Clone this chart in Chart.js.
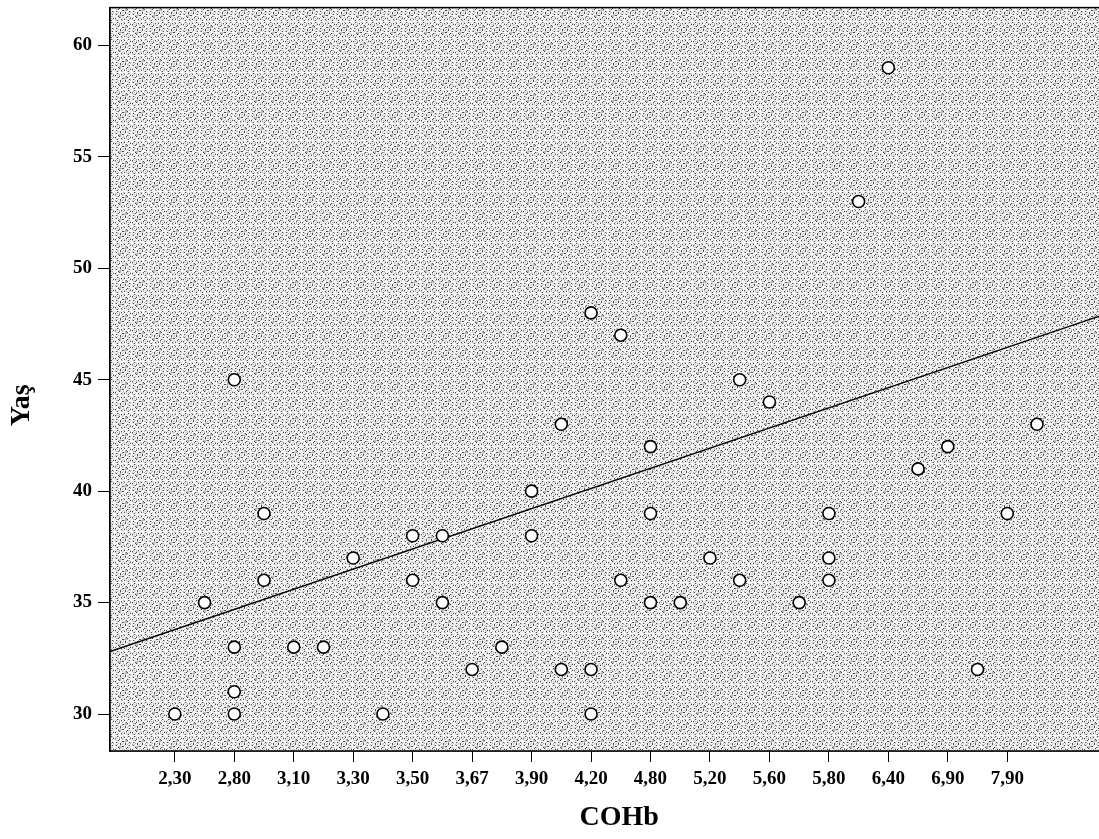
<!DOCTYPE html>
<html>
<head>
<meta charset="utf-8">
<script src="https://cdn.jsdelivr.net/npm/chart.js@4"></script>
<style>
  html, body { margin: 0; padding: 0; background: #fff; overflow: hidden; }
  #wrap { width: 1110px; height: 839px; position: relative; }
</style>
</head>
<body>
<div id="wrap"><canvas id="scatter"></canvas></div>
<script>
document.addEventListener('DOMContentLoaded', () => {

  // data

  // labelled categories on the COHb axis (every second category is labelled)
  const tickLabels = ['2,30', '2,80', '3,10', '3,30', '3,50', '3,67', '3,90', '4,20',
                      '4,80', '5,20', '5,60', '5,80', '6,40', '6,90', '7,90'];

  // category position of each case on the COHb axis (0 = 2,30, 2 = 2,80, ...)
  const cohbPos = [0, 1, 2, 2, 2, 2, 3, 3, 4, 5, 6, 7, 8, 8, 9, 9, 10, 11, 12, 12,
                   13, 13, 14, 14, 14, 15, 15, 16, 16, 16, 17, 18, 19, 19, 20, 21,
                   22, 22, 22, 23, 24, 25, 26, 27, 28, 29];

  // age (Yaş) of each case
  const yas = [30, 35, 45, 33, 31, 30, 39, 36, 33, 33, 37, 30, 38, 36, 38, 35, 32, 33, 40, 38,
               43, 32, 48, 32, 30, 47, 36, 42, 39, 35, 35, 37, 45, 36, 44, 35,
               39, 37, 36, 53, 59, 41, 42, 32, 39, 43];

  // fit line, read at the plot edges
  const fitPos = [-2.18, 31.2];
  const fitYas = [32.8, 47.9];

  const yTicks = [30, 35, 40, 45, 50, 55, 60];

  const xTitle = 'COHb';
  const yTitle = 'Yaş';

  // stippled grey plot background
  const tile = document.createElement('canvas');
  tile.width = 17; tile.height = 17;
  const tctx = tile.getContext('2d');
  tctx.fillStyle = '#f6f6f6';
  tctx.fillRect(0, 0, 17, 17);
  for (let x = 0; x < 17; x++) {
    for (let y = 0; y < 17; y++) {
      const h = (x * 73 + y * 151 + x * y * 37) % 17;
      if (h < 2) { tctx.fillStyle = '#4a4a4a'; tctx.fillRect(x, y, 1, 1); }
      else if (h < 6) { tctx.fillStyle = '#bdbdbd'; tctx.fillRect(x, y, 1, 1); }
    }
  }

  const serif = 'Liberation Serif, Times New Roman, serif';

  const plotFrame = {
    id: 'plotFrame',
    beforeDatasetsDraw(chart) {
      const { ctx, chartArea: a } = chart;
      ctx.save();
      ctx.fillStyle = ctx.createPattern(tile, 'repeat');
      ctx.fillRect(a.left, a.top, a.right - a.left, a.bottom - a.top);
      ctx.restore();
    },
    afterDatasetsDraw(chart) {
      const { ctx, chartArea: a } = chart;
      ctx.save();
      ctx.strokeStyle = '#000';
      ctx.lineWidth = 1.5;
      ctx.strokeRect(a.left, a.top, a.right - a.left, a.bottom - a.top);
      ctx.restore();
    },
    afterDraw(chart) {
      // axis titles, placed as in the original figure
      const { ctx, chartArea: a } = chart;
      ctx.save();
      ctx.fillStyle = '#000';
      ctx.font = 'bold 28px ' + serif;
      ctx.textAlign = 'center';
      ctx.textBaseline = 'middle';
      ctx.fillText(xTitle, (a.left + a.right) / 2 + 13, 818);
      ctx.translate(22, (a.top + a.bottom) / 2 + 26);
      ctx.rotate(-Math.PI / 2);
      ctx.fillText(yTitle, 0, 0);
      ctx.restore();
    }
  };

  const config = {
    type: 'scatter',
    data: {
      datasets: [{
        label: 'Fit',
        type: 'line',
        data: fitPos.map((x, i) => ({ x: x, y: fitYas[i] })),
        borderColor: '#000',
        borderWidth: 1.5,
        pointRadius: 0,
        fill: false,
        order: 2
      }, {
        label: 'Yaş',
        data: cohbPos.map((x, i) => ({ x: x, y: yas[i] })),
        pointStyle: 'circle',
        pointRadius: 6,
        pointBorderWidth: 1.6,
        borderColor: '#000',
        backgroundColor: '#fff',
        order: 1
      }]
    },
    options: {
      responsive: true,
      maintainAspectRatio: false,
      animation: false,
      layout: { padding: { top: 7, right: 4, bottom: 0, left: 0 } },
      plugins: {
        legend: { display: false },
        tooltip: { enabled: false }
      },
      scales: {
        x: {
          type: 'linear',
          min: -2.18,
          max: 31.2,
          afterBuildTicks: (scale) => {
            scale.ticks = tickLabels.map((_, i) => ({ value: i * 2 }));
          },
          afterFit: (scale) => {
            scale.height = 88;
            scale.paddingLeft = 0;
            scale.paddingRight = 0;
          },
          grid: { display: true, drawOnChartArea: false, tickLength: 11, color: '#000', lineWidth: 1 },
          border: { display: true, color: '#000', width: 1.5 },
          ticks: {
            autoSkip: false,
            maxRotation: 0,
            padding: 6,
            color: '#000',
            font: { family: serif, size: 19, weight: 'bold' },
            callback: (value) => tickLabels[Math.round(value / 2)]
          },
          title: { display: false, text: xTitle }
        },
        y: {
          min: 28.34,
          max: 61.7,
          afterBuildTicks: (scale) => {
            scale.ticks = yTicks.map(v => ({ value: v }));
          },
          afterFit: (scale) => {
            scale.width = 110;
            scale.paddingTop = 0;
            scale.paddingBottom = 0;
          },
          grid: { display: true, drawOnChartArea: false, tickLength: 12, color: '#000', lineWidth: 1 },
          border: { display: true, color: '#000', width: 1.5 },
          ticks: {
            padding: 6,
            color: '#000',
            font: { family: serif, size: 19, weight: 'bold' }
          },
          title: { display: false, text: yTitle }
        }
      }
    },
    plugins: [plotFrame]
  };

  new Chart(document.getElementById('scatter'), config);
});
</script>
</body>
</html>
